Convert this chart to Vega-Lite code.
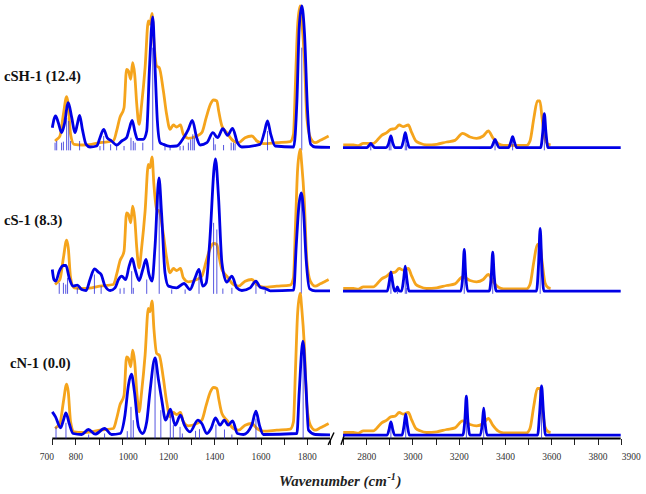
{
  "$schema": "https://vega.github.io/schema/vega-lite/v6.json",
  "description": "IR spectra: experiment against three computed conformers, broken wavenumber axis",
  "padding": 0,
  "spacing": 0,
  "bounds": "flush",
  "background": "white",
  "config": {"view": {"stroke": null}},
  "datasets": {
    "experiment": [
      {"seg":"L","wn":712,"h":20},{"seg":"L","wn":720,"h":25},{"seg":"L","wn":733,"h":35},{"seg":"L","wn":748,"h":100},{"seg":"L","wn":762,"h":153},{"seg":"L","wn":769,"h":130},{"seg":"L","wn":779,"h":40},{"seg":"L","wn":794,"h":10},{"seg":"L","wn":830,"h":8},{"seg":"L","wn":870,"h":10},{"seg":"L","wn":906,"h":15},{"seg":"L","wn":964,"h":20},{"seg":"L","wn":978,"h":50},{"seg":"L","wn":992,"h":90},{"seg":"L","wn":1010,"h":120},{"seg":"L","wn":1021,"h":235},{"seg":"L","wn":1029,"h":230},{"seg":"L","wn":1039,"h":205},{"seg":"L","wn":1047,"h":255},{"seg":"L","wn":1056,"h":220},{"seg":"L","wn":1065,"h":130},{"seg":"L","wn":1075,"h":70},{"seg":"L","wn":1086,"h":130},{"seg":"L","wn":1101,"h":240},{"seg":"L","wn":1115,"h":380},{"seg":"L","wn":1122,"h":370},{"seg":"L","wn":1131,"h":403},{"seg":"L","wn":1139,"h":320},{"seg":"L","wn":1151,"h":245},{"seg":"L","wn":1162,"h":240},{"seg":"L","wn":1180,"h":170},{"seg":"L","wn":1194,"h":100},{"seg":"L","wn":1209,"h":55},{"seg":"L","wn":1223,"h":68},{"seg":"L","wn":1237,"h":62},{"seg":"L","wn":1254,"h":68},{"seg":"L","wn":1266,"h":40},{"seg":"L","wn":1288,"h":28},{"seg":"L","wn":1324,"h":35},{"seg":"L","wn":1346,"h":45},{"seg":"L","wn":1365,"h":90},{"seg":"L","wn":1383,"h":130},{"seg":"L","wn":1397,"h":143},{"seg":"L","wn":1411,"h":140},{"seg":"L","wn":1419,"h":110},{"seg":"L","wn":1433,"h":65},{"seg":"L","wn":1454,"h":45},{"seg":"L","wn":1483,"h":20},{"seg":"L","wn":1505,"h":15},{"seg":"L","wn":1533,"h":30},{"seg":"L","wn":1562,"h":35},{"seg":"L","wn":1584,"h":20},{"seg":"L","wn":1612,"h":12},{"seg":"L","wn":1670,"h":15},{"seg":"L","wn":1728,"h":18},{"seg":"L","wn":1742,"h":40},{"seg":"L","wn":1751,"h":200},{"seg":"L","wn":1760,"h":365},{"seg":"L","wn":1771,"h":425},{"seg":"L","wn":1778,"h":380},{"seg":"L","wn":1789,"h":270},{"seg":"L","wn":1800,"h":90},{"seg":"L","wn":1815,"h":30},{"seg":"L","wn":1836,"h":15},{"seg":"L","wn":1858,"h":22},{"seg":"L","wn":1880,"h":30},{"seg":"L","wn":1894,"h":35},
      {"seg":"R","wn":2701,"h":8},{"seg":"R","wn":2745,"h":8},{"seg":"R","wn":2766,"h":6},{"seg":"R","wn":2788,"h":13},{"seg":"R","wn":2831,"h":13},{"seg":"R","wn":2845,"h":20},{"seg":"R","wn":2867,"h":37},{"seg":"R","wn":2889,"h":45},{"seg":"R","wn":2906,"h":55},{"seg":"R","wn":2925,"h":57},{"seg":"R","wn":2943,"h":68},{"seg":"R","wn":2961,"h":63},{"seg":"R","wn":2982,"h":68},{"seg":"R","wn":2997,"h":45},{"seg":"R","wn":3015,"h":20},{"seg":"R","wn":3033,"h":13},{"seg":"R","wn":3061,"h":8},{"seg":"R","wn":3105,"h":10},{"seg":"R","wn":3148,"h":17},{"seg":"R","wn":3184,"h":22},{"seg":"R","wn":3217,"h":43},{"seg":"R","wn":3249,"h":32},{"seg":"R","wn":3277,"h":28},{"seg":"R","wn":3306,"h":35},{"seg":"R","wn":3328,"h":50},{"seg":"R","wn":3347,"h":30},{"seg":"R","wn":3371,"h":12},{"seg":"R","wn":3393,"h":7},{"seg":"R","wn":3493,"h":7},{"seg":"R","wn":3508,"h":20},{"seg":"R","wn":3525,"h":90},{"seg":"R","wn":3540,"h":140},{"seg":"R","wn":3551,"h":140},{"seg":"R","wn":3560,"h":90},{"seg":"R","wn":3573,"h":25},{"seg":"R","wn":3587,"h":10},{"seg":"R","wn":3597,"h":8}
    ],
    "cSH": [
      {"seg":"L","wn":700,"h":60},{"seg":"L","wn":714,"h":95},{"seg":"L","wn":726,"h":75},{"seg":"L","wn":740,"h":45},{"seg":"L","wn":752,"h":70},{"seg":"L","wn":769,"h":135},{"seg":"L","wn":784,"h":90},{"seg":"L","wn":798,"h":45},{"seg":"L","wn":808,"h":70},{"seg":"L","wn":818,"h":97},{"seg":"L","wn":830,"h":55},{"seg":"L","wn":846,"h":10},{"seg":"L","wn":863,"h":2},{"seg":"L","wn":892,"h":5},{"seg":"L","wn":906,"h":30},{"seg":"L","wn":922,"h":55},{"seg":"L","wn":937,"h":30},{"seg":"L","wn":956,"h":20},{"seg":"L","wn":978,"h":8},{"seg":"L","wn":1000,"h":20},{"seg":"L","wn":1021,"h":30},{"seg":"L","wn":1032,"h":55},{"seg":"L","wn":1045,"h":82},{"seg":"L","wn":1058,"h":45},{"seg":"L","wn":1068,"h":25},{"seg":"L","wn":1094,"h":25},{"seg":"L","wn":1108,"h":50},{"seg":"L","wn":1120,"h":240},{"seg":"L","wn":1134,"h":392},{"seg":"L","wn":1144,"h":240},{"seg":"L","wn":1154,"h":80},{"seg":"L","wn":1166,"h":15},{"seg":"L","wn":1180,"h":10},{"seg":"L","wn":1209,"h":4},{"seg":"L","wn":1237,"h":5},{"seg":"L","wn":1266,"h":28},{"seg":"L","wn":1288,"h":55},{"seg":"L","wn":1305,"h":82},{"seg":"L","wn":1324,"h":30},{"seg":"L","wn":1339,"h":8},{"seg":"L","wn":1368,"h":15},{"seg":"L","wn":1394,"h":45},{"seg":"L","wn":1414,"h":30},{"seg":"L","wn":1437,"h":57},{"seg":"L","wn":1457,"h":37},{"seg":"L","wn":1479,"h":58},{"seg":"L","wn":1500,"h":15},{"seg":"L","wn":1519,"h":2},{"seg":"L","wn":1598,"h":10},{"seg":"L","wn":1616,"h":45},{"seg":"L","wn":1630,"h":80},{"seg":"L","wn":1644,"h":40},{"seg":"L","wn":1663,"h":5},{"seg":"L","wn":1743,"h":2},{"seg":"L","wn":1757,"h":140},{"seg":"L","wn":1767,"h":360},{"seg":"L","wn":1778,"h":425},{"seg":"L","wn":1790,"h":340},{"seg":"L","wn":1803,"h":110},{"seg":"L","wn":1817,"h":10},{"seg":"L","wn":1836,"h":2},{"seg":"L","wn":1900,"h":1},
      {"seg":"R","wn":2700,"h":0},{"seg":"R","wn":2802,"h":0},{"seg":"R","wn":2812,"h":6},{"seg":"R","wn":2820,"h":13},{"seg":"R","wn":2828,"h":6},{"seg":"R","wn":2838,"h":0},{"seg":"R","wn":2885,"h":0},{"seg":"R","wn":2897,"h":12},{"seg":"R","wn":2907,"h":35},{"seg":"R","wn":2915,"h":14},{"seg":"R","wn":2925,"h":0},{"seg":"R","wn":2951,"h":0},{"seg":"R","wn":2961,"h":20},{"seg":"R","wn":2969,"h":45},{"seg":"R","wn":2977,"h":22},{"seg":"R","wn":2987,"h":1},{"seg":"R","wn":3339,"h":0},{"seg":"R","wn":3349,"h":12},{"seg":"R","wn":3357,"h":25},{"seg":"R","wn":3365,"h":12},{"seg":"R","wn":3375,"h":0},{"seg":"R","wn":3415,"h":0},{"seg":"R","wn":3425,"h":16},{"seg":"R","wn":3433,"h":33},{"seg":"R","wn":3441,"h":16},{"seg":"R","wn":3451,"h":0},{"seg":"R","wn":3554,"h":0},{"seg":"R","wn":3563,"h":45},{"seg":"R","wn":3570,"h":102},{"seg":"R","wn":3577,"h":45},{"seg":"R","wn":3586,"h":0},{"seg":"R","wn":3900,"h":0}
    ],
    "cSHsticks": [
      {"wn":712,"h":15},{"wn":719,"h":20},{"wn":740,"h":15},{"wn":748,"h":18},{"wn":762,"h":90},{"wn":771,"h":80},{"wn":779,"h":20},{"wn":818,"h":20},{"wn":906,"h":5},{"wn":922,"h":35},{"wn":952,"h":10},{"wn":978,"h":5},{"wn":1010,"h":5},{"wn":1040,"h":30},{"wn":1050,"h":20},{"wn":1058,"h":15},{"wn":1091,"h":15},{"wn":1134,"h":300},{"wn":1187,"h":5},{"wn":1209,"h":5},{"wn":1252,"h":5},{"wn":1266,"h":6},{"wn":1288,"h":15},{"wn":1298,"h":25},{"wn":1307,"h":40},{"wn":1314,"h":30},{"wn":1397,"h":30},{"wn":1404,"h":10},{"wn":1440,"h":8},{"wn":1473,"h":15},{"wn":1483,"h":15},{"wn":1490,"h":12},{"wn":1630,"h":50},{"wn":1778,"h":300},
      {"wn":2820,"h":8},{"wn":2900,"h":10},{"wn":2907,"h":20},{"wn":2969,"h":25},{"wn":2975,"h":10},{"wn":3357,"h":15},{"wn":3433,"h":20},{"wn":3570,"h":60}
    ],
    "cS": [
      {"seg":"L","wn":700,"h":65},{"seg":"L","wn":707,"h":35},{"seg":"L","wn":715,"h":30},{"seg":"L","wn":730,"h":60},{"seg":"L","wn":748,"h":77},{"seg":"L","wn":759,"h":77},{"seg":"L","wn":773,"h":40},{"seg":"L","wn":790,"h":15},{"seg":"L","wn":808,"h":18},{"seg":"L","wn":827,"h":5},{"seg":"L","wn":846,"h":2},{"seg":"L","wn":863,"h":35},{"seg":"L","wn":882,"h":67},{"seg":"L","wn":899,"h":57},{"seg":"L","wn":911,"h":50},{"seg":"L","wn":928,"h":15},{"seg":"L","wn":950,"h":2},{"seg":"L","wn":971,"h":10},{"seg":"L","wn":986,"h":35},{"seg":"L","wn":1000,"h":45},{"seg":"L","wn":1017,"h":35},{"seg":"L","wn":1032,"h":75},{"seg":"L","wn":1045,"h":98},{"seg":"L","wn":1058,"h":65},{"seg":"L","wn":1075,"h":32},{"seg":"L","wn":1091,"h":65},{"seg":"L","wn":1105,"h":95},{"seg":"L","wn":1118,"h":50},{"seg":"L","wn":1131,"h":30},{"seg":"L","wn":1144,"h":135},{"seg":"L","wn":1161,"h":340},{"seg":"L","wn":1172,"h":235},{"seg":"L","wn":1187,"h":55},{"seg":"L","wn":1202,"h":15},{"seg":"L","wn":1237,"h":10},{"seg":"L","wn":1269,"h":23},{"seg":"L","wn":1295,"h":5},{"seg":"L","wn":1317,"h":40},{"seg":"L","wn":1334,"h":65},{"seg":"L","wn":1350,"h":15},{"seg":"L","wn":1365,"h":25},{"seg":"L","wn":1379,"h":135},{"seg":"L","wn":1405,"h":397},{"seg":"L","wn":1418,"h":285},{"seg":"L","wn":1433,"h":85},{"seg":"L","wn":1454,"h":27},{"seg":"L","wn":1476,"h":45},{"seg":"L","wn":1497,"h":10},{"seg":"L","wn":1519,"h":2},{"seg":"L","wn":1555,"h":10},{"seg":"L","wn":1580,"h":30},{"seg":"L","wn":1598,"h":12},{"seg":"L","wn":1620,"h":8},{"seg":"L","wn":1642,"h":1},{"seg":"L","wn":1743,"h":3},{"seg":"L","wn":1754,"h":135},{"seg":"L","wn":1766,"h":260},{"seg":"L","wn":1776,"h":295},{"seg":"L","wn":1786,"h":235},{"seg":"L","wn":1797,"h":95},{"seg":"L","wn":1812,"h":7},{"seg":"L","wn":1836,"h":1},{"seg":"L","wn":1900,"h":1},
      {"seg":"R","wn":2700,"h":0},{"seg":"R","wn":2891,"h":0},{"seg":"R","wn":2900,"h":28},{"seg":"R","wn":2907,"h":58},{"seg":"R","wn":2914,"h":28},{"seg":"R","wn":2923,"h":0},{"seg":"R","wn":2928,"h":1},{"seg":"R","wn":2935,"h":13},{"seg":"R","wn":2942,"h":1},{"seg":"R","wn":2953,"h":0},{"seg":"R","wn":2962,"h":36},{"seg":"R","wn":2969,"h":75},{"seg":"R","wn":2976,"h":36},{"seg":"R","wn":2985,"h":0},{"seg":"R","wn":3209,"h":0},{"seg":"R","wn":3218,"h":50},{"seg":"R","wn":3224,"h":125},{"seg":"R","wn":3230,"h":50},{"seg":"R","wn":3239,"h":0},{"seg":"R","wn":3332,"h":0},{"seg":"R","wn":3341,"h":50},{"seg":"R","wn":3347,"h":117},{"seg":"R","wn":3353,"h":50},{"seg":"R","wn":3362,"h":0},{"seg":"R","wn":3536,"h":0},{"seg":"R","wn":3545,"h":80},{"seg":"R","wn":3552,"h":188},{"seg":"R","wn":3559,"h":80},{"seg":"R","wn":3568,"h":0},{"seg":"R","wn":3900,"h":0}
    ],
    "cSsticks": [
      {"wn":730,"h":25},{"wn":748,"h":25},{"wn":758,"h":20},{"wn":766,"h":40},{"wn":808,"h":10},{"wn":882,"h":50},{"wn":911,"h":15},{"wn":993,"h":8},{"wn":1010,"h":10},{"wn":1043,"h":60},{"wn":1050,"h":10},{"wn":1108,"h":35},{"wn":1162,"h":300},{"wn":1216,"h":5},{"wn":1274,"h":5},{"wn":1334,"h":50},{"wn":1397,"h":205},{"wn":1411,"h":185},{"wn":1437,"h":8},{"wn":1476,"h":10},{"wn":1580,"h":20},{"wn":1620,"h":5},{"wn":1776,"h":290},
      {"wn":2907,"h":40},{"wn":2935,"h":8},{"wn":2969,"h":50},{"wn":2975,"h":10},{"wn":3224,"h":80},{"wn":3347,"h":80},{"wn":3552,"h":130}
    ],
    "cN": [
      {"seg":"L","wn":700,"h":70},{"seg":"L","wn":714,"h":55},{"seg":"L","wn":736,"h":22},{"seg":"L","wn":748,"h":45},{"seg":"L","wn":759,"h":67},{"seg":"L","wn":773,"h":35},{"seg":"L","wn":790,"h":5},{"seg":"L","wn":827,"h":2},{"seg":"L","wn":856,"h":17},{"seg":"L","wn":885,"h":3},{"seg":"L","wn":926,"h":20},{"seg":"L","wn":956,"h":2},{"seg":"L","wn":993,"h":5},{"seg":"L","wn":1014,"h":60},{"seg":"L","wn":1029,"h":150},{"seg":"L","wn":1042,"h":183},{"seg":"L","wn":1055,"h":130},{"seg":"L","wn":1072,"h":25},{"seg":"L","wn":1091,"h":5},{"seg":"L","wn":1108,"h":40},{"seg":"L","wn":1122,"h":130},{"seg":"L","wn":1144,"h":232},{"seg":"L","wn":1158,"h":170},{"seg":"L","wn":1172,"h":110},{"seg":"L","wn":1190,"h":45},{"seg":"L","wn":1210,"h":78},{"seg":"L","wn":1231,"h":30},{"seg":"L","wn":1254,"h":60},{"seg":"L","wn":1271,"h":30},{"seg":"L","wn":1295,"h":10},{"seg":"L","wn":1329,"h":45},{"seg":"L","wn":1346,"h":35},{"seg":"L","wn":1368,"h":5},{"seg":"L","wn":1386,"h":20},{"seg":"L","wn":1405,"h":52},{"seg":"L","wn":1425,"h":30},{"seg":"L","wn":1443,"h":45},{"seg":"L","wn":1460,"h":30},{"seg":"L","wn":1479,"h":43},{"seg":"L","wn":1500,"h":5},{"seg":"L","wn":1526,"h":2},{"seg":"L","wn":1562,"h":30},{"seg":"L","wn":1580,"h":72},{"seg":"L","wn":1595,"h":30},{"seg":"L","wn":1612,"h":2},{"seg":"L","wn":1757,"h":5},{"seg":"L","wn":1767,"h":130},{"seg":"L","wn":1783,"h":282},{"seg":"L","wn":1796,"h":150},{"seg":"L","wn":1807,"h":15},{"seg":"L","wn":1836,"h":2},{"seg":"L","wn":1900,"h":1},
      {"seg":"R","wn":2700,"h":0},{"seg":"R","wn":2891,"h":0},{"seg":"R","wn":2900,"h":20},{"seg":"R","wn":2907,"h":40},{"seg":"R","wn":2914,"h":20},{"seg":"R","wn":2923,"h":0},{"seg":"R","wn":2955,"h":0},{"seg":"R","wn":2964,"h":30},{"seg":"R","wn":2971,"h":63},{"seg":"R","wn":2978,"h":30},{"seg":"R","wn":2987,"h":0},{"seg":"R","wn":3218,"h":0},{"seg":"R","wn":3227,"h":50},{"seg":"R","wn":3233,"h":117},{"seg":"R","wn":3239,"h":50},{"seg":"R","wn":3248,"h":0},{"seg":"R","wn":3293,"h":0},{"seg":"R","wn":3302,"h":35},{"seg":"R","wn":3308,"h":81},{"seg":"R","wn":3314,"h":35},{"seg":"R","wn":3323,"h":0},{"seg":"R","wn":3541,"h":0},{"seg":"R","wn":3550,"h":70},{"seg":"R","wn":3558,"h":148},{"seg":"R","wn":3566,"h":70},{"seg":"R","wn":3575,"h":0},{"seg":"R","wn":3900,"h":0}
    ],
    "cNsticks": [
      {"wn":716,"h":25},{"wn":759,"h":37},{"wn":857,"h":2},{"wn":926,"h":5},{"wn":1024,"h":12},{"wn":1040,"h":85},{"wn":1050,"h":45},{"wn":1144,"h":225},{"wn":1169,"h":75},{"wn":1210,"h":70},{"wn":1223,"h":30},{"wn":1252,"h":25},{"wn":1262,"h":5},{"wn":1319,"h":13},{"wn":1336,"h":18},{"wn":1407,"h":32},{"wn":1444,"h":17},{"wn":1476,"h":2},{"wn":1580,"h":50},{"wn":1784,"h":275},
      {"wn":2907,"h":25},{"wn":2971,"h":40},{"wn":3233,"h":80},{"wn":3308,"h":55},{"wn":3558,"h":100}
    ],
    "axisLines": [
      {"seg":"left","wn":700,"h":-10},{"seg":"left","wn":1900,"h":-10},
      {"seg":"right","wn":2700,"h":-10},{"seg":"right","wn":3900,"h":-10}
    ],
    "breaks": [
      {"seg":"a","wn":1892,"h":-29},{"seg":"a","wn":2146,"h":8},
      {"seg":"b","wn":2577,"h":-29},{"seg":"b","wn":2709,"h":8}
    ],
    "axisTitle": [
      {"wn":2889,"h":-140,"label":"Wavenumber (cm"}
    ],
    "axisTitleSup": [
      {"wn":2892,"h":-125,"label":"-1"}
    ],
    "axisTitleEnd": [
      {"wn":2931,"h":-140,"label":")"}
    ]
  },
  "vconcat": [
    {
      "width": 646,
      "height": 149.33,
      "encoding": {
        "x": {"field": "wn", "type": "quantitative", "axis": null, "scale": {"domain": [474, 700, 1900, 2700, 3900, 4010], "range": [0, 52.3, 330, 343, 620.7, 646]}},
        "y": {"field": "h", "type": "quantitative", "axis": null, "scale": {"domain": [-8, 440]}}
      },
      "layer": [
        {"data": {"name": "experiment"}, "mark": {"type": "line", "color": "#F5A41C", "strokeWidth": 2.8, "interpolate": "monotone"}, "encoding": {"detail": {"field": "seg"}}},
        {"data": {"name": "cSHsticks"}, "mark": {"type": "rule", "color": "#2A2AD8", "strokeWidth": 0.8}, "encoding": {"y2": {"datum": -8}}},
        {"data": {"name": "cSH"}, "mark": {"type": "line", "color": "#0000E6", "strokeWidth": 2.8, "interpolate": "monotone"}, "encoding": {"detail": {"field": "seg"}}},
        {"data": {"values": [{"wn": 491, "h": 212, "label": "cSH-1 (12.4)"}]}, "mark": {"type": "text", "align": "left", "baseline": "middle", "font": "Liberation Serif", "fontWeight": "bold", "fontSize": 14.6, "color": "#111111"}, "encoding": {"text": {"field": "label"}}}
      ]
    },
    {
      "width": 646,
      "height": 142.83,
      "encoding": {
        "x": {"field": "wn", "type": "quantitative", "axis": null, "scale": {"domain": [474, 700, 1900, 2700, 3900, 4010], "range": [0, 52.3, 330, 343, 620.7, 646]}},
        "y": {"field": "h", "type": "quantitative", "axis": null, "scale": {"domain": [-8, 420.5]}}
      },
      "layer": [
        {"data": {"name": "experiment"}, "mark": {"type": "line", "color": "#F5A41C", "strokeWidth": 2.8, "interpolate": "monotone"}, "encoding": {"detail": {"field": "seg"}}},
        {"data": {"name": "cSsticks"}, "mark": {"type": "rule", "color": "#2A2AD8", "strokeWidth": 0.8}, "encoding": {"y2": {"datum": -8}}},
        {"data": {"name": "cS"}, "mark": {"type": "line", "color": "#0000E6", "strokeWidth": 2.8, "interpolate": "monotone"}, "encoding": {"detail": {"field": "seg"}}},
        {"data": {"values": [{"wn": 491, "h": 211, "label": "cS-1 (8.3)"}]}, "mark": {"type": "text", "align": "left", "baseline": "middle", "font": "Liberation Serif", "fontWeight": "bold", "fontSize": 14.6, "color": "#111111"}, "encoding": {"text": {"field": "label"}}}
      ]
    },
    {
      "width": 646,
      "height": 144.5,
      "encoding": {
        "x": {
          "field": "wn",
          "type": "quantitative",
          "title": null,
          "scale": {"domain": [474, 700, 1900, 2700, 3900, 4010], "range": [0, 52.3, 330, 343, 620.7, 646]},
          "axis": {
            "values": [700,800,900,1000,1100,1200,1300,1400,1500,1600,1700,1800,1900,2700,2800,2900,3000,3100,3200,3300,3400,3500,3600,3700,3800,3900],
            "labelExpr": "indexof([700,800,1000,1200,1400,1600,1800,2800,3000,3200,3400,3600,3800,3900],datum.value)>=0 ? ''+datum.value : ''",
            "domain": false,
            "grid": false,
            "tickSize": 6,
            "tickColor": "#222222",
            "labelFont": "Liberation Serif",
            "labelFontSize": 9.5,
            "labelColor": "#333333",
            "labelPadding": 7,
            "labelOverlap": false,
            "labelFlush": false,
            "labelBound": false,
            "labelOffset": {"condition": [{"test": "datum.value===700", "value": -6}, {"test": "datum.value===1000", "value": 6}, {"test": "datum.value===3900", "value": 10}], "value": 0}
          }
        },
        "y": {"field": "h", "type": "quantitative", "axis": null, "scale": {"domain": [-10, 423.5]}}
      },
      "layer": [
        {"data": {"name": "axisLines"}, "mark": {"type": "line", "color": "#000000", "strokeWidth": 2}, "encoding": {"detail": {"field": "seg"}}},
        {"data": {"name": "breaks"}, "mark": {"type": "line", "color": "#000000", "strokeWidth": 1.4}, "encoding": {"detail": {"field": "seg"}}},
        {"data": {"name": "experiment"}, "mark": {"type": "line", "color": "#F5A41C", "strokeWidth": 2.8, "interpolate": "monotone"}, "encoding": {"detail": {"field": "seg"}}},
        {"data": {"name": "cNsticks"}, "mark": {"type": "rule", "color": "#2A2AD8", "strokeWidth": 0.8}, "encoding": {"y2": {"datum": -10}}},
        {"data": {"name": "cN"}, "mark": {"type": "line", "color": "#0000E6", "strokeWidth": 2.8, "interpolate": "monotone"}, "encoding": {"detail": {"field": "seg"}}},
        {"data": {"values": [{"wn": 517, "h": 214, "label": "cN-1 (0.0)"}]}, "mark": {"type": "text", "align": "left", "baseline": "middle", "font": "Liberation Serif", "fontWeight": "bold", "fontSize": 14.6, "color": "#111111"}, "encoding": {"text": {"field": "label"}}},
        {"data": {"name": "axisTitle"}, "mark": {"type": "text", "align": "right", "baseline": "middle", "font": "Liberation Serif", "fontWeight": "bold", "fontStyle": "italic", "fontSize": 14.9, "color": "#222222"}, "encoding": {"text": {"field": "label"}}},
        {"data": {"name": "axisTitleSup"}, "mark": {"type": "text", "align": "left", "baseline": "middle", "font": "Liberation Serif", "fontWeight": "bold", "fontStyle": "italic", "fontSize": 10, "color": "#222222"}, "encoding": {"text": {"field": "label"}}},
        {"data": {"name": "axisTitleEnd"}, "mark": {"type": "text", "align": "left", "baseline": "middle", "font": "Liberation Serif", "fontWeight": "bold", "fontStyle": "italic", "fontSize": 14.9, "color": "#222222"}, "encoding": {"text": {"field": "label"}}}
      ]
    }
  ]
}
